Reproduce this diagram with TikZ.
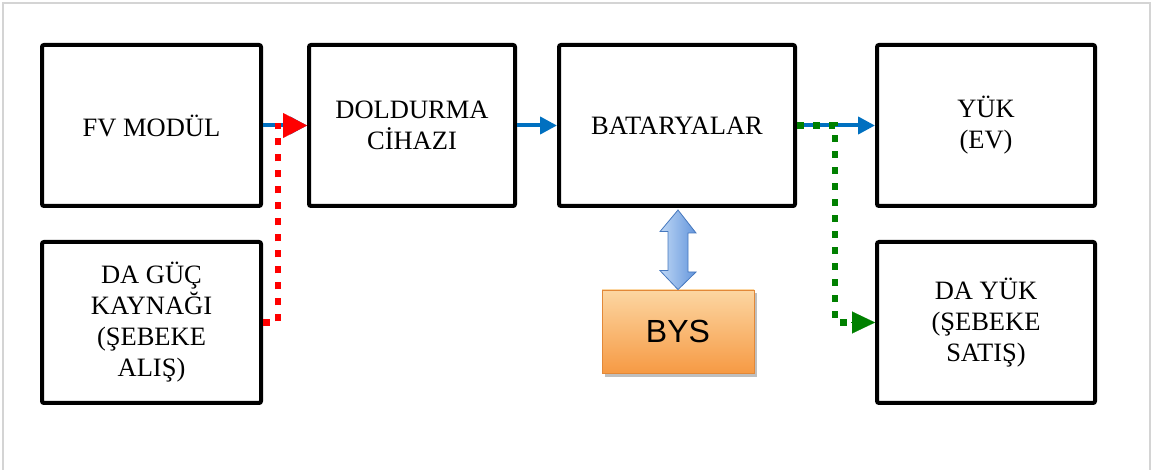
\documentclass[tikz,border=0pt]{standalone}
\usepackage{fontspec}
\setmainfont{Liberation Serif}
\newfontfamily\bysfont{Liberation Sans}
\usetikzlibrary{arrows.meta,calc}
\definecolor{flowblue}{RGB}{0,112,192}
\definecolor{flowred}{RGB}{255,0,0}
\definecolor{flowgreen}{RGB}{0,128,0}
\definecolor{framegray}{RGB}{212,212,212}
\definecolor{bystop}{RGB}{252,214,162}
\definecolor{bysbot}{RGB}{246,154,68}
\definecolor{bysedge}{RGB}{226,136,56}
\definecolor{dalight}{RGB}{190,215,245}
\definecolor{dadark}{RGB}{100,150,220}
\definecolor{daedge}{RGB}{70,120,190}
\begin{document}
\begin{tikzpicture}[x=1pt,y=-1pt,
  blk/.style={draw=black, line width=4pt, rounded corners=2pt, align=center,
    minimum height=161pt, inner sep=0pt,
    font=\fontsize{26.5}{31}\selectfont},
  bluearrow/.style={draw=flowblue, line width=4pt, -{Triangle[length=17pt,width=17pt]}},
  reddots/.style={draw=flowred, line width=6.5pt, dash pattern=on 7pt off 9pt},
  greendots/.style={draw=flowgreen, line width=6.5pt, dash pattern=on 7pt off 9pt}
]
\useasboundingbox (0,0) rectangle (1152,470);
% frame
\draw[framegray, line width=1.5pt] (3,472) -- (3,3) -- (1150,3) -- (1150,472);

% boxes
\node[blk, minimum width=219pt] (fv) at (151.5,125.5) {FV MODÜL};
\node[blk, minimum width=206pt] (dold) at (412,125.5) {DOLDURMA\\CİHAZI};
\node[blk, minimum width=236pt] (bat) at (677,125.5) {BATARYALAR};
\node[blk, minimum width=218pt] (yuk) at (986,125.5) {YÜK\\(EV)};
\node[blk, minimum width=219pt] (dag) at (151.5,322.5) {DA GÜÇ\\KAYNAĞI\\(ŞEBEKE\\ALIŞ)};
\node[blk, minimum width=218pt] (dayuk) at (986,322.5) {DA YÜK\\(ŞEBEKE\\SATIŞ)};

% BYS box
\fill[black!25] (605,293) rectangle (757,377);
\node[draw=bysedge, line width=0.8pt, top color=bystop, bottom color=bysbot,
  minimum width=152pt, minimum height=83pt, inner sep=0pt,
  font=\bysfont\fontsize{32}{36}\selectfont] (bys) at (678,331.5) {BYS};

% double arrow BAT <-> BYS
\coordinate (dtop) at (bat.south -| bys.north);
\shade[left color=dalight, right color=dadark, draw=daedge, line width=0.8pt]
  ($(dtop)+(0,2)$) -- ++(18,23) -- ++(-8,0) -- ++(0,39) -- ++(8,0)
  -- (bys.north) -- ++(-18,-19) -- ++(8,0) -- ++(0,-39) -- ++(-8,0) -- cycle;

% flows
\draw[bluearrow] (fv.east) -- (dold.west);
\draw[bluearrow] (dold.east) -- (bat.west);
\draw[bluearrow] (bat.east) -- (yuk.west);

\coordinate (rj) at (278,125.5);
\coordinate (rh) at (283,125.5);
\draw[reddots] (dag.east) -| ($(rj)+(0,-2)$);
\draw[flowred, line width=0.1pt, -{Triangle[length=24pt,width=25pt]}] (rh) -- (dold.west);

\coordinate (gj) at (835,125.5);
\draw[greendots] (bat.east) -- (gj) |- ($(dayuk.west)+(-22,0)$);
\draw[flowgreen, line width=0.1pt, -{Triangle[length=23pt,width=22pt]}] ($(dayuk.west)+(-24,0)$) -- (dayuk.west);
\end{tikzpicture}
\end{document}
